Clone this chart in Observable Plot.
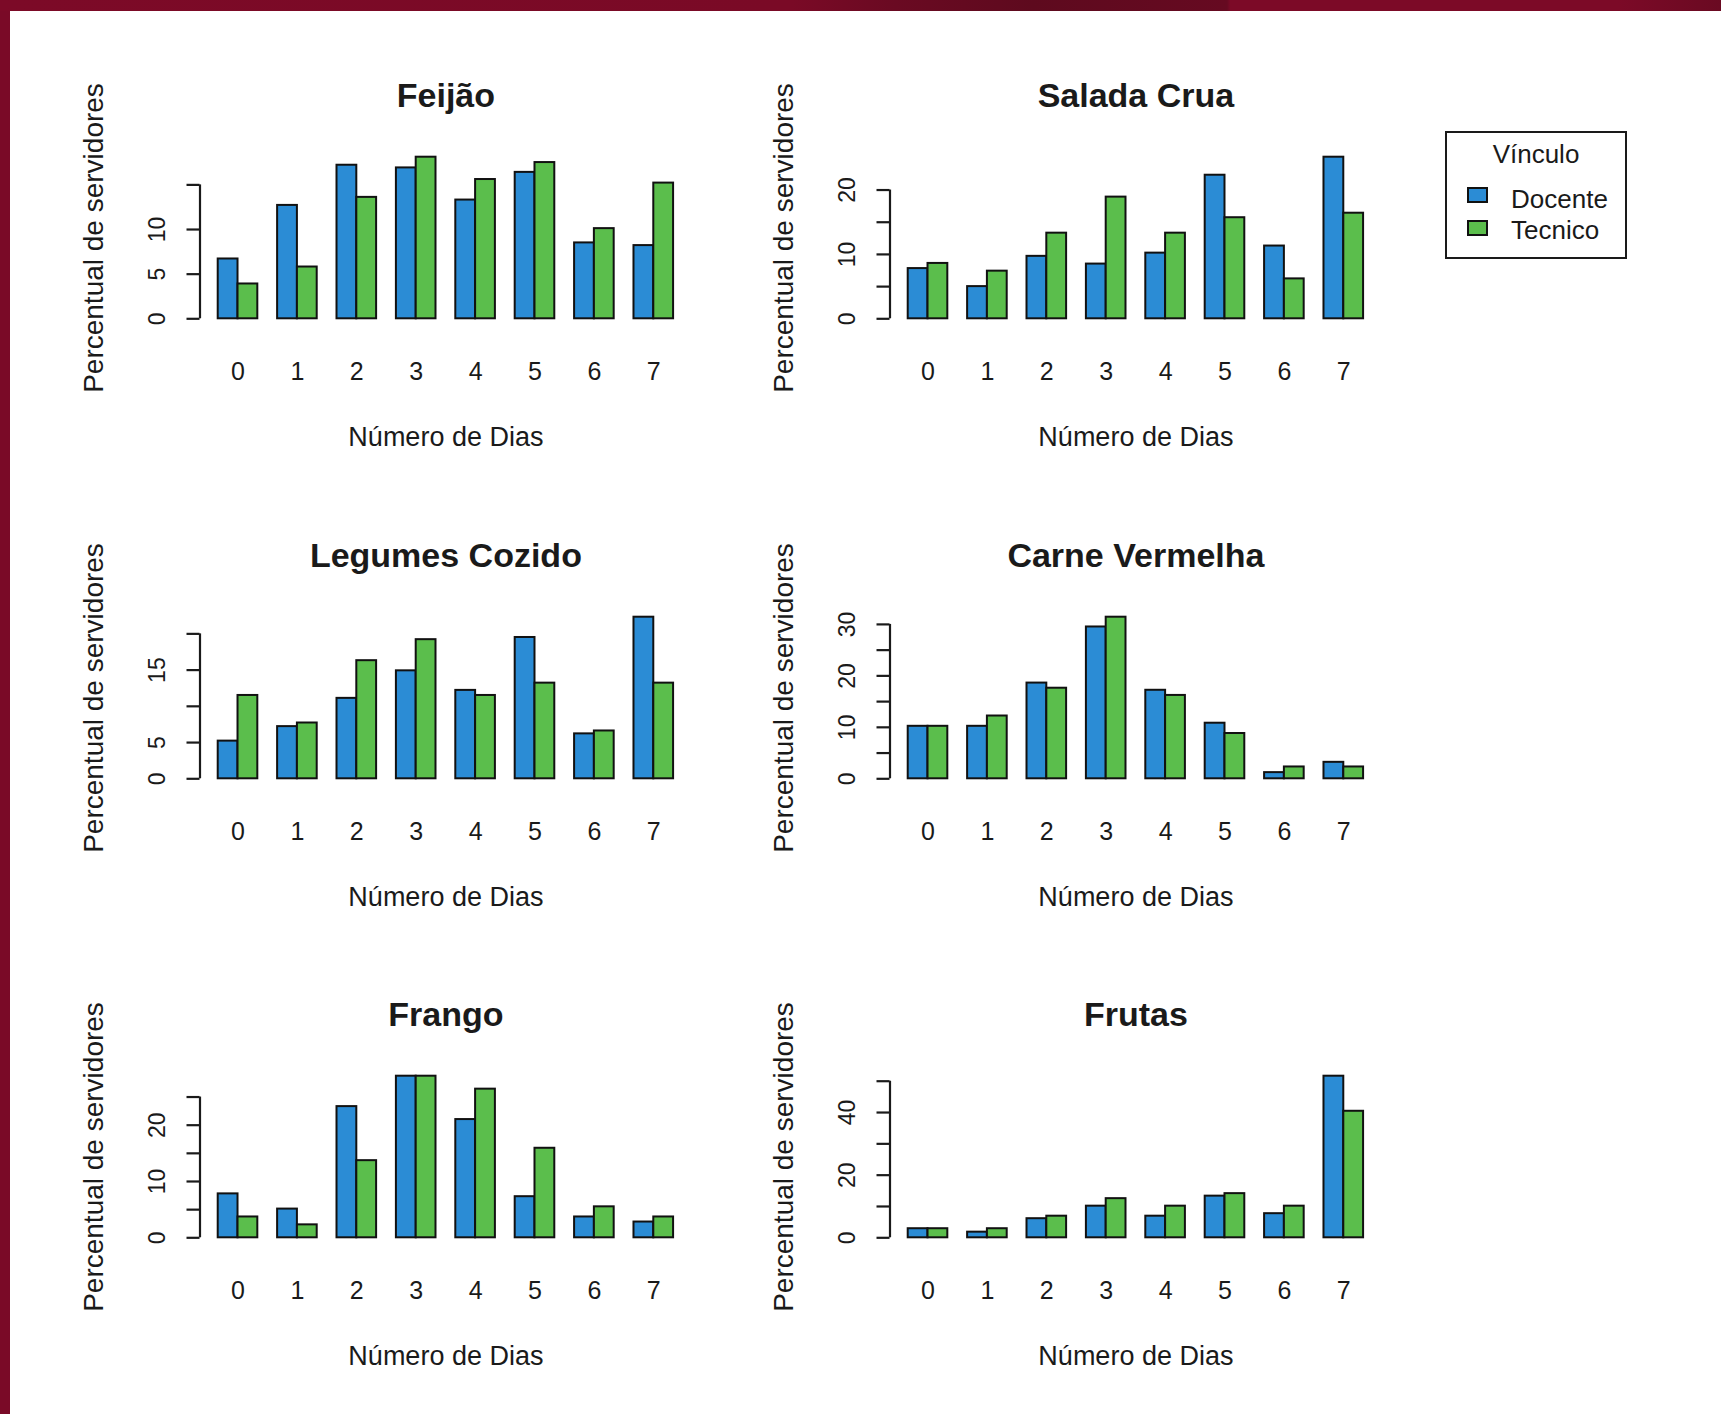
<!DOCTYPE html>
<html>
<head>
<meta charset="utf-8">
<script src="https://cdn.jsdelivr.net/npm/d3@7"></script>
<script src="https://cdn.jsdelivr.net/npm/@observablehq/plot@0.6"></script>
<style>
  html, body { margin: 0; padding: 0; background: #fff; }
  #page { position: relative; width: 1721px; height: 1414px; overflow: hidden; background: #fff;
          font-family: "Liberation Sans", Arial, sans-serif; color: #1a1a1a; }
  #topbar { position: absolute; left: 0; top: 0; width: 1721px; height: 11px;
            background: linear-gradient(to right, #7c0a27 0%, #7a0a26 46%, #6a0a22 52%, #5e0a1e 60%, #660a21 71.3%, #7c0a27 71.5%, #7c0a27 94%, #6a0a22 100%); }
  #leftbar { position: absolute; left: 0; top: 0; width: 10px; height: 1414px; background: #7a0a27; }
  .panel { position: absolute; }
  #legend { position: absolute; left: 1445px; top: 131px; width: 182px; height: 128px; box-sizing: border-box;
            border: 2px solid #1a1a1a; background: #fff; }
  #legend .ttl { position: absolute; left: 0; width: 100%; top: 6px; text-align: center; font-size: 26px; line-height: 30px; }
  #legend .sw { position: absolute; left: 20px; width: 21px; height: 16px; border: 2px solid #111; box-sizing: border-box; }
  #legend .lb { position: absolute; left: 64px; font-size: 26px; line-height: 30px; }
</style>
</head>
<body>
<div id="page">
  <div id="leftbar"></div>
  <div id="topbar"></div>
</div>
<script>
// ---------- data ----------
const days = [0, 1, 2, 3, 4, 5, 6, 7];
const series = ["Docente", "Tecnico"];
const seriesColors = ["#2B8CD5", "#5BBE4C"];
const legendTitle = "Vínculo";
const xTitle = "Número de Dias";
const yTitle = "Percentual de servidores";

const titles = ["Feijão", "Salada Crua", "Legumes Cozido", "Carne Vermelha", "Frango", "Frutas"];

const feijaoDocente  = [6.7, 12.7, 17.2, 16.9, 13.3, 16.4, 8.5, 8.2];
const feijaoTecnico  = [3.9, 5.8, 13.6, 18.1, 15.6, 17.5, 10.1, 15.2];
const saladaDocente  = [7.8, 5.0, 9.7, 8.5, 10.2, 22.3, 11.3, 25.1];
const saladaTecnico  = [8.6, 7.4, 13.3, 18.9, 13.3, 15.7, 6.2, 16.4];
const legumesDocente = [5.2, 7.2, 11.1, 14.9, 12.2, 19.5, 6.2, 22.3];
const legumesTecnico = [11.5, 7.7, 16.3, 19.2, 11.5, 13.2, 6.6, 13.2];
const carneDocente   = [10.2, 10.2, 18.6, 29.5, 17.2, 10.8, 1.2, 3.2];
const carneTecnico   = [10.2, 12.2, 17.6, 31.4, 16.2, 8.8, 2.3, 2.3];
const frangoDocente  = [7.8, 5.1, 23.3, 28.7, 21.0, 7.3, 3.7, 2.8];
const frangoTecnico  = [3.7, 2.3, 13.7, 28.7, 26.4, 15.9, 5.5, 3.7];
const frutasDocente  = [2.9, 1.8, 6.1, 10.1, 6.9, 13.3, 7.7, 51.6];
const frutasTecnico  = [2.9, 2.9, 6.9, 12.5, 10.1, 14.1, 10.1, 40.4];

const yTicksFeijao   = [0, 5, 10, 15];
const yLabelsFeijao  = [0, 5, 10];
const yTicksSalada   = [0, 5, 10, 15, 20];
const yLabelsSalada  = [0, 10, 20];
const yTicksLegumes  = [0, 5, 10, 15, 20];
const yLabelsLegumes = [0, 5, 15];
const yTicksCarne    = [0, 5, 10, 15, 20, 25, 30];
const yLabelsCarne   = [0, 10, 20, 30];
const yTicksFrango   = [0, 5, 10, 15, 20, 25];
const yLabelsFrango  = [0, 10, 20];
const yTicksFrutas   = [0, 10, 20, 30, 40, 50];
const yLabelsFrutas  = [0, 20, 40];

const panels = [
  {title: titles[0], values: [feijaoDocente, feijaoTecnico], ticks: yTicksFeijao, labels: yLabelsFeijao},
  {title: titles[1], values: [saladaDocente, saladaTecnico], ticks: yTicksSalada, labels: yLabelsSalada},
  {title: titles[2], values: [legumesDocente, legumesTecnico], ticks: yTicksLegumes, labels: yLabelsLegumes},
  {title: titles[3], values: [carneDocente, carneTecnico], ticks: yTicksCarne, labels: yLabelsCarne},
  {title: titles[4], values: [frangoDocente, frangoTecnico], ticks: yTicksFrango, labels: yLabelsFrango},
  {title: titles[5], values: [frutasDocente, frutasTecnico], ticks: yTicksFrutas, labels: yLabelsFrutas}
];

// ---------- layout (R barplot style: bar width 1, space 1 between groups) ----------
const BAR = 1, SPACE = 1, NS = series.length;
const groupStep = NS * BAR + SPACE;
const slot = (g, s) => SPACE + g * groupStep + s * BAR;
const groupCenter = g => SPACE + g * groupStep + NS * BAR / 2;
const xLo = slot(0, 0), xHi = slot(days.length - 1, NS - 1) + BAR;
const xPad = 0.04 * (xHi - xLo);
const xDomain = [xLo - xPad, xHi + xPad];

const W = 720, H = 460;
const colLeft = [0, 690];
const rowTop = [0, 460, 918.7];
const font = "'Liberation Sans', Arial, sans-serif";
const ink = "#1a1a1a";

const page = document.getElementById("page");

panels.forEach((p, i) => {
  const rows = [];
  days.forEach((d, g) => series.forEach((s, si) => {
    rows.push({day: d, series: s, value: p.values[si][g], x1: slot(g, si), x2: slot(g, si) + BAR});
  }));
  const yMax = d3.max(rows, r => r.value);

  const chart = Plot.plot({
    width: W, height: H,
    marginLeft: 199.5, marginRight: 28.7, marginTop: 156.7, marginBottom: 141.7,
    style: {fontFamily: font, background: "transparent", overflow: "visible", color: ink},
    x: {domain: xDomain, axis: null},
    y: {domain: [0, yMax]},
    color: {domain: series, range: seriesColors},
    marks: [
      Plot.rectY(rows, {x1: "x1", x2: "x2", y: "value", fill: "series", stroke: "#111", strokeWidth: 2}),
      Plot.axisY({ticks: p.ticks, tickSize: 13, tickFormat: () => "", label: null, stroke: ink, strokeWidth: 2.2}),
      Plot.ruleX([0], {x: () => xDomain[0], y1: () => 0, y2: () => p.ticks[p.ticks.length - 1], stroke: ink, strokeWidth: 2.2}),
      Plot.text(p.labels, {y: d => d, text: d => String(d), frameAnchor: "left", dx: -42, rotate: -90,
        textAnchor: "middle", lineAnchor: "middle", fontSize: 23, fill: ink}),
      Plot.text(days, {x: g => groupCenter(g), text: d => String(d), frameAnchor: "bottom", dy: 53.4,
        lineAnchor: "middle", fontSize: 25, fill: ink}),
      Plot.text([xTitle], {text: d => d, frameAnchor: "bottom", dy: 118.4, lineAnchor: "middle", fontSize: 27, fill: ink}),
      Plot.text([yTitle], {text: d => d, frameAnchor: "left", dx: -105.5, rotate: -90, lineAnchor: "middle",
        textAnchor: "middle", fontSize: 28, fill: ink}),
      Plot.text([p.title], {text: d => d, frameAnchor: "top", dy: -60.7, lineAnchor: "middle",
        fontSize: 34, fontWeight: "bold", fill: ink})
    ]
  });
  const wrap = document.createElement("div");
  wrap.className = "panel";
  wrap.style.left = colLeft[i % 2] + "px";
  wrap.style.top = rowTop[Math.floor(i / 2)] + "px";
  chart.style.maxWidth = "none";
  wrap.appendChild(chart);
  page.appendChild(wrap);
});

// ---------- legend ----------
const legend = document.createElement("div");
legend.id = "legend";
const lt = document.createElement("div");
lt.className = "ttl";
lt.textContent = legendTitle;
legend.appendChild(lt);
series.forEach((s, i) => {
  const sw = document.createElement("div");
  sw.className = "sw";
  sw.style.top = (54 + i * 33) + "px";
  sw.style.background = seriesColors[i];
  legend.appendChild(sw);
  const lb = document.createElement("div");
  lb.className = "lb";
  lb.style.top = (51 + i * 31) + "px";
  lb.textContent = s;
  legend.appendChild(lb);
});
page.appendChild(legend);
</script>
</body>
</html>
